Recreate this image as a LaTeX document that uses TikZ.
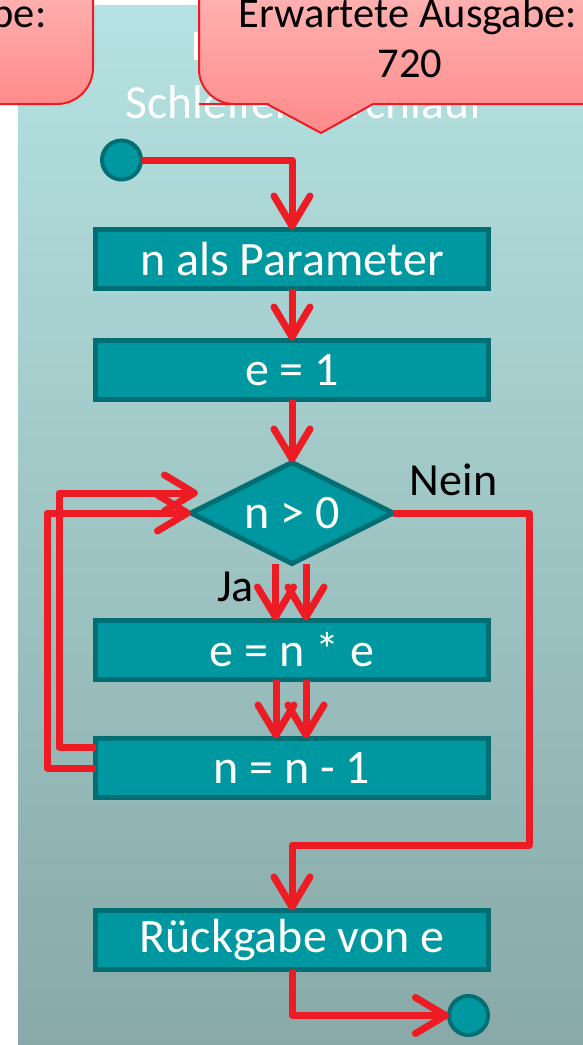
\documentclass[tikz,border=0pt]{standalone}
\usepackage{fontspec}
\setmainfont{Carlito}
\usetikzlibrary{arrows.meta,shapes.geometric}
\definecolor{redl}{HTML}{ED1C24}
\definecolor{tealf}{HTML}{0098A0}
\definecolor{teald}{HTML}{006E73}
\definecolor{pantop}{HTML}{B5E2E2}
\definecolor{panbot}{HTML}{87A8A6}
\definecolor{calltop}{HTML}{FFB8B8}
\definecolor{callbot}{HTML}{FF8A8A}
\tikzset{
  box/.style={rectangle, draw=teald, fill=tealf, line width=5pt, minimum width=393pt, minimum height=59pt, inner sep=0pt, outer sep=0pt, text=white, font=\fontsize{48}{56}\selectfont},
  dia/.style={diamond, draw=teald, fill=tealf, line width=5pt, minimum width=202pt, minimum height=101pt, inner sep=0pt, outer sep=0pt},
  diatext/.style={text=white, font=\fontsize{48}{56}\selectfont, inner sep=0pt},
  circ/.style={circle, draw=teald, fill=tealf, line width=4pt, minimum size=39pt, inner sep=0pt, outer sep=0pt},
  arr/.style={draw=redl, line width=7pt, line join=round, -{Straight Barb[length=30pt,width=36pt,round]}},
  lbl/.style={anchor=base, text=black, font=\fontsize{46}{54}\selectfont},
  callout/.style={draw=redl, line width=2pt, top color=calltop, bottom color=callbot},
  calltext/.style={text=black, font=\fontsize{42.5}{50}\selectfont},
}
\begin{document}
\begin{tikzpicture}[x=1pt,y=-1pt]
\clip (0,0) rectangle (583,1045);
\useasboundingbox (0,0) rectangle (583,1045);
% panel
\path[top color=pantop, bottom color=panbot] (18,5) rectangle (640,1070);
% title
\node[anchor=base, text=white, font=\fontsize{47.5}{56}\selectfont] (title) at (305,118) {Schleifendurchlauf};
\fill[white] (193.5,32) rectangle (198.5,60);
% callouts
\path[callout] (93,-30) [rounded corners=36pt] -- (93,104) -- (-40,104) [sharp corners] -- (-40,-30) -- cycle;
\node[anchor=base east, calltext] (c1) at (50,27) {be:};
\path[callout] (199,-30) [rounded corners=35pt] -- (199,104) -- (234,104) [sharp corners] -- (267,104) -- (321,133) -- (373,104) -- (660,104) -- (660,-30) -- cycle;
\node[anchor=base, calltext] (c2a) at (408,27) {Erwartete Ausgabe:};
\node[anchor=base, calltext] (c2b) at (410,77) {720};
% nodes
\node[circ] (start) at (121.5,160) {};
\node[box] (par) at (292,259) {n als Parameter};
\node[box] (ini) at (292,370) {e = 1};
\node[dia] (cond) at (292,513) {};
\node[diatext] (condtext) at (cond.center) {n > 0};
\node[box] (mul) at (292,650) {e = n * e};
\node[box] (dec) at (292,768) {n = n - 1};
\node[box] (ret) at (292,940) {Rückgabe von e};
\node[circ] (end) at (468.5,1015.5) {};
\node[lbl] (ja) at (235.5,601) {Ja};
\node[lbl] (nein) at (453.5,495) {Nein};
\coordinate (tipin) at (198,493);
\coordinate (nr) at (529,845);
% connectors
\draw[arr] (start.east) -| (par.north);
\draw[arr] (par.south) -- (ini.north);
\draw[arr] (ini.south) -- (cond.north);
\draw[arr] ([xshift=-16.5pt]cond.south) -- ([xshift=-16.5pt]mul.north);
\draw[arr] ([xshift=14pt]cond.south) -- ([xshift=14pt]mul.north);
\draw[arr] ([xshift=-16pt]mul.south) -- ([xshift=-16pt]dec.north);
\draw[arr] ([xshift=14pt]mul.south) -- ([xshift=14pt]dec.north);
\draw[arr] (dec.west) -- ++(-48.5,0) |- (cond.west);
\draw[arr] ([yshift=21pt]dec.west) -- ++(-36.5,0) |- (tipin);
\draw[arr] (cond.east) -| (nr) -| (ret.north);
\draw[arr] (ret.south) |- (end.west);
\end{tikzpicture}
\end{document}
